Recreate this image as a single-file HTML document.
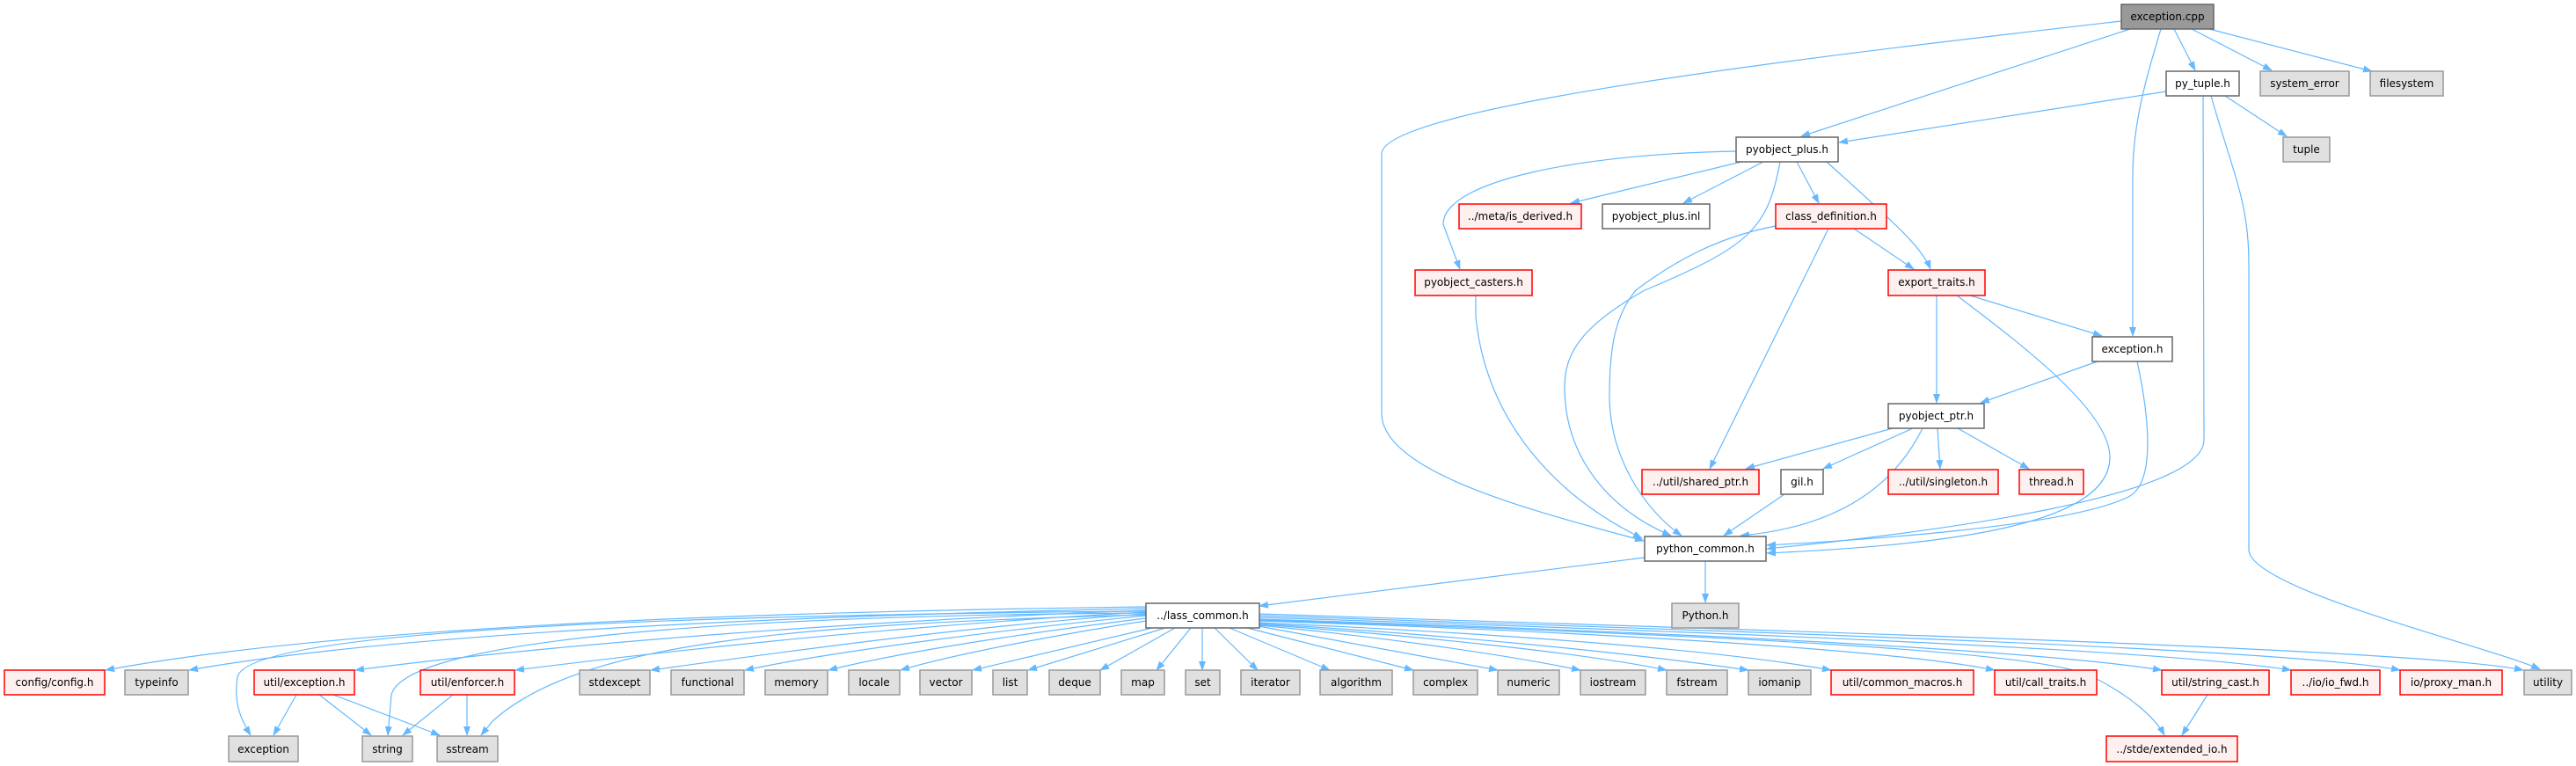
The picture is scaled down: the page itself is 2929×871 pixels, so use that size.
<!DOCTYPE html>
<html><head><meta charset="utf-8"><style>
html,body{margin:0;padding:0;background:#fff;}
svg{display:block;}
text{font-family:"DejaVu Sans","Liberation Sans",sans-serif;font-size:12px;fill:#000;text-anchor:middle;}
.e{fill:none;stroke:#63b8ff;stroke-width:1.2;marker-end:url(#a);}
.g{fill:#e0e0e0;stroke:#999;stroke-width:1.5;}
.r{fill:#fff0f0;stroke:#ff0000;stroke-width:1.5;}
.w{fill:#fff;stroke:#666;stroke-width:1.5;}
.k{fill:#999;stroke:#666;stroke-width:1.5;}
</style></head><body>
<svg width="2929" height="871" viewBox="0 0 2929 871" xmlns="http://www.w3.org/2000/svg">
<defs><marker id="a" markerUnits="userSpaceOnUse" markerWidth="11" markerHeight="8" refX="10" refY="4" orient="auto"><path d="M0,0 L11,4 L0,8 z" fill="#63b8ff"/></marker></defs>

<!-- edges -->
<path class="e" d="M2422,33 L2048,155"/>
<path class="e" d="M2472,33 L2496,80"/>
<path class="e" d="M2492,33 L2583,80"/>
<path class="e" d="M2512,33 L2697,81"/>
<path class="e" d="M2457,33 C2440,90 2425,140 2425,200 L2425,382"/>
<path class="e" d="M2412,24 C2100,60 1571,120 1571,175 L1571,470 C1571,540 1760,585 1869,615"/>
<path class="e" d="M2463,104 L2091,162"/>
<path class="e" d="M2530,109 L2600,155"/>
<path class="e" d="M2505,109 L2506,500 C2506,565 2200,605 2009,624"/>
<path class="e" d="M2514,109 C2540,200 2557,230 2557,300 L2557,625 C2557,670 2830,735 2888,761"/>
<path class="e" d="M1974,172 C1800,175 1641,205 1641,255 L1660,306"/>
<path class="e" d="M1980,184 L1786,231"/>
<path class="e" d="M2005,184 L1914,231"/>
<path class="e" d="M2043,184 L2068,231"/>
<path class="e" d="M2077,184 C2150,250 2185,280 2195,306"/>
<path class="e" d="M2024,184 C2010,260 1990,280 1870,330 C1800,370 1779,400 1779,440 C1779,520 1830,580 1900,609"/>
<path class="e" d="M2019,257 C1950,270 1900,300 1860,330 C1835,360 1830,400 1830,450 C1830,520 1870,580 1912,609"/>
<path class="e" d="M1678,336 L1678,360 C1690,480 1770,565 1867,612"/>
<path class="e" d="M2108,260 L2176,306"/>
<path class="e" d="M2079,260 L1944,533"/>
<path class="e" d="M2240,336 L2390,382"/>
<path class="e" d="M2202,336 L2202,458"/>
<path class="e" d="M2225,336 C2310,400 2399,470 2399,520 C2399,600 2200,620 2009,629"/>
<path class="e" d="M2385,411 L2252,458"/>
<path class="e" d="M2430,411 C2445,480 2450,550 2420,565 C2350,600 2100,615 2009,620"/>
<path class="e" d="M2152,487 L1985,533"/>
<path class="e" d="M2175,487 L2073,533"/>
<path class="e" d="M2203,487 L2206,533"/>
<path class="e" d="M2226,487 L2307,533"/>
<path class="e" d="M2186,487 C2150,560 2080,600 1979,609"/>
<path class="e" d="M2029,562 L1960,609"/>
<path class="e" d="M1870,634 L1432,689"/>
<path class="e" d="M1939,638 L1939,685"/>

<!-- lass_common fan -->
<path class="e" d="M1303,690 C900,695 400,710 120,762"/>
<path class="e" d="M1303,692 C900,700 450,720 215,762"/>
<path class="e" d="M1303,694 C1000,705 650,730 404,762"/>
<path class="e" d="M1303,696 C1050,710 800,735 586,762"/>
<path class="e" d="M1303,698 C1100,712 900,740 740,762"/>
<path class="e" d="M1303,700 C1150,715 950,740 847,762"/>
<path class="e" d="M1303,703 C1180,718 1030,740 942,762"/>
<path class="e" d="M1303,706 C1200,722 1080,745 1024,762"/>
<path class="e" d="M1310,714 L1106,762"/>
<path class="e" d="M1325,714 L1169,762"/>
<path class="e" d="M1336,714 L1251,762"/>
<path class="e" d="M1354,714 L1315,762"/>
<path class="e" d="M1367,714 L1367,762"/>
<path class="e" d="M1381,714 L1430,762"/>
<path class="e" d="M1398,714 L1512,762"/>
<path class="e" d="M1418,714 L1607,762"/>
<path class="e" d="M1431,712 L1703,762"/>
<path class="e" d="M1431,711 C1550,722 1700,742 1797,762"/>
<path class="e" d="M1431,710 C1600,722 1800,742 1895,762"/>
<path class="e" d="M1431,709 C1650,722 1850,742 1988,762"/>
<path class="e" d="M1431,708 C1700,720 1950,738 2082,762"/>
<path class="e" d="M1431,706 C1800,718 2150,738 2268,762"/>
<path class="e" d="M1431,704 C1850,717 2300,737 2458,762"/>
<path class="e" d="M1431,702 C1900,717 2450,737 2605,762"/>
<path class="e" d="M1431,700 C1950,717 2600,737 2729,762"/>
<path class="e" d="M1431,698 C2000,717 2750,737 2869,762"/>
<path class="e" d="M1303,695 C700,700 280,720 270,770 C265,800 275,820 285,836"/>
<path class="e" d="M1303,697 C800,700 460,730 445,790 L441,836"/>
<path class="e" d="M1303,699 C900,710 660,730 560,820 L547,836"/>
<path class="e" d="M1431,705 C1950,722 2330,740 2380,770 C2420,790 2450,815 2461,836"/>
<path class="e" d="M2510,790 L2481,836"/>
<path class="e" d="M337,790 L311,836"/>
<path class="e" d="M363,790 L422,836"/>
<path class="e" d="M379,790 L500,836"/>
<path class="e" d="M515,790 L458,836"/>
<path class="e" d="M531,790 L531,836"/>

<!-- nodes -->
<rect class="k" x="2412" y="5" width="105" height="28"/><text x="2464.5" y="23">exception.cpp</text>
<rect class="w" x="2463" y="81" width="83" height="28"/><text x="2504.5" y="99">py_tuple.h</text>
<rect class="g" x="2570" y="81" width="101" height="28"/><text x="2620.5" y="99">system_error</text>
<rect class="g" x="2695" y="81" width="83" height="28"/><text x="2736.5" y="99">filesystem</text>
<rect class="w" x="1974" y="156" width="116" height="28"/><text x="2032" y="174">pyobject_plus.h</text>
<rect class="g" x="2596" y="156" width="53" height="28"/><text x="2622.5" y="174">tuple</text>
<rect class="r" x="1659" y="232" width="139" height="28"/><text x="1728.5" y="250">../meta/is_derived.h</text>
<rect class="w" x="1822" y="232" width="122" height="28"/><text x="1883" y="250">pyobject_plus.inl</text>
<rect class="r" x="2019" y="232" width="126" height="28"/><text x="2082" y="250">class_definition.h</text>
<rect class="r" x="1609" y="307" width="133" height="29"/><text x="1675.5" y="325">pyobject_casters.h</text>
<rect class="r" x="2147" y="307" width="110" height="29"/><text x="2202" y="325">export_traits.h</text>
<rect class="w" x="2379" y="383" width="91" height="28"/><text x="2424.5" y="401">exception.h</text>
<rect class="w" x="2147" y="459" width="109" height="28"/><text x="2201.5" y="477">pyobject_ptr.h</text>
<rect class="r" x="1867" y="534" width="133" height="28"/><text x="1933.5" y="552">../util/shared_ptr.h</text>
<rect class="w" x="2025" y="534" width="48" height="28"/><text x="2049" y="552">gil.h</text>
<rect class="r" x="2147" y="534" width="125" height="28"/><text x="2209.5" y="552">../util/singleton.h</text>
<rect class="r" x="2296" y="534" width="73" height="28"/><text x="2332.5" y="552">thread.h</text>
<rect class="w" x="1870" y="610" width="138" height="28"/><text x="1939" y="628">python_common.h</text>
<rect class="g" x="1901" y="686" width="76" height="28"/><text x="1939" y="704">Python.h</text>
<rect class="w" x="1303" y="686" width="129" height="28"/><text x="1367.5" y="704">../lass_common.h</text>

<rect class="r" x="5" y="762" width="114" height="28"/><text x="62" y="780">config/config.h</text>
<rect class="g" x="142" y="762" width="72" height="28"/><text x="178" y="780">typeinfo</text>
<rect class="r" x="289" y="762" width="114" height="28"/><text x="346" y="780">util/exception.h</text>
<rect class="r" x="478" y="762" width="107" height="28"/><text x="531.5" y="780">util/enforcer.h</text>
<rect class="g" x="659" y="762" width="80" height="28"/><text x="699" y="780">stdexcept</text>
<rect class="g" x="763" y="762" width="83" height="28"/><text x="804.5" y="780">functional</text>
<rect class="g" x="870" y="762" width="71" height="28"/><text x="905.5" y="780">memory</text>
<rect class="g" x="965" y="762" width="58" height="28"/><text x="994" y="780">locale</text>
<rect class="g" x="1046" y="762" width="59" height="28"/><text x="1075.5" y="780">vector</text>
<rect class="g" x="1129" y="762" width="39" height="28"/><text x="1148.5" y="780">list</text>
<rect class="g" x="1193" y="762" width="58" height="28"/><text x="1222" y="780">deque</text>
<rect class="g" x="1275" y="762" width="49" height="28"/><text x="1299.5" y="780">map</text>
<rect class="g" x="1348" y="762" width="39" height="28"/><text x="1367.5" y="780">set</text>
<rect class="g" x="1411" y="762" width="67" height="28"/><text x="1444.5" y="780">iterator</text>
<rect class="g" x="1501" y="762" width="82" height="28"/><text x="1542" y="780">algorithm</text>
<rect class="g" x="1607" y="762" width="73" height="28"/><text x="1643.5" y="780">complex</text>
<rect class="g" x="1703" y="762" width="70" height="28"/><text x="1738" y="780">numeric</text>
<rect class="g" x="1797" y="762" width="74" height="28"/><text x="1834" y="780">iostream</text>
<rect class="g" x="1895" y="762" width="69" height="28"/><text x="1929.5" y="780">fstream</text>
<rect class="g" x="1988" y="762" width="71" height="28"/><text x="2023.5" y="780">iomanip</text>
<rect class="r" x="2082" y="762" width="162" height="28"/><text x="2163" y="780">util/common_macros.h</text>
<rect class="r" x="2268" y="762" width="116" height="28"/><text x="2326" y="780">util/call_traits.h</text>
<rect class="r" x="2458" y="762" width="122" height="28"/><text x="2519" y="780">util/string_cast.h</text>
<rect class="r" x="2605" y="762" width="101" height="28"/><text x="2655.5" y="780">../io/io_fwd.h</text>
<rect class="r" x="2729" y="762" width="116" height="28"/><text x="2787" y="780">io/proxy_man.h</text>
<rect class="g" x="2870" y="762" width="54" height="28"/><text x="2897" y="780">utility</text>

<rect class="g" x="260" y="837" width="79" height="29"/><text x="299.5" y="856">exception</text>
<rect class="g" x="412" y="837" width="57" height="29"/><text x="440.5" y="856">string</text>
<rect class="g" x="497" y="837" width="69" height="29"/><text x="531.5" y="856">sstream</text>
<rect class="r" x="2395" y="837" width="149" height="29"/><text x="2469.5" y="856">../stde/extended_io.h</text>
</svg>
</body></html>
